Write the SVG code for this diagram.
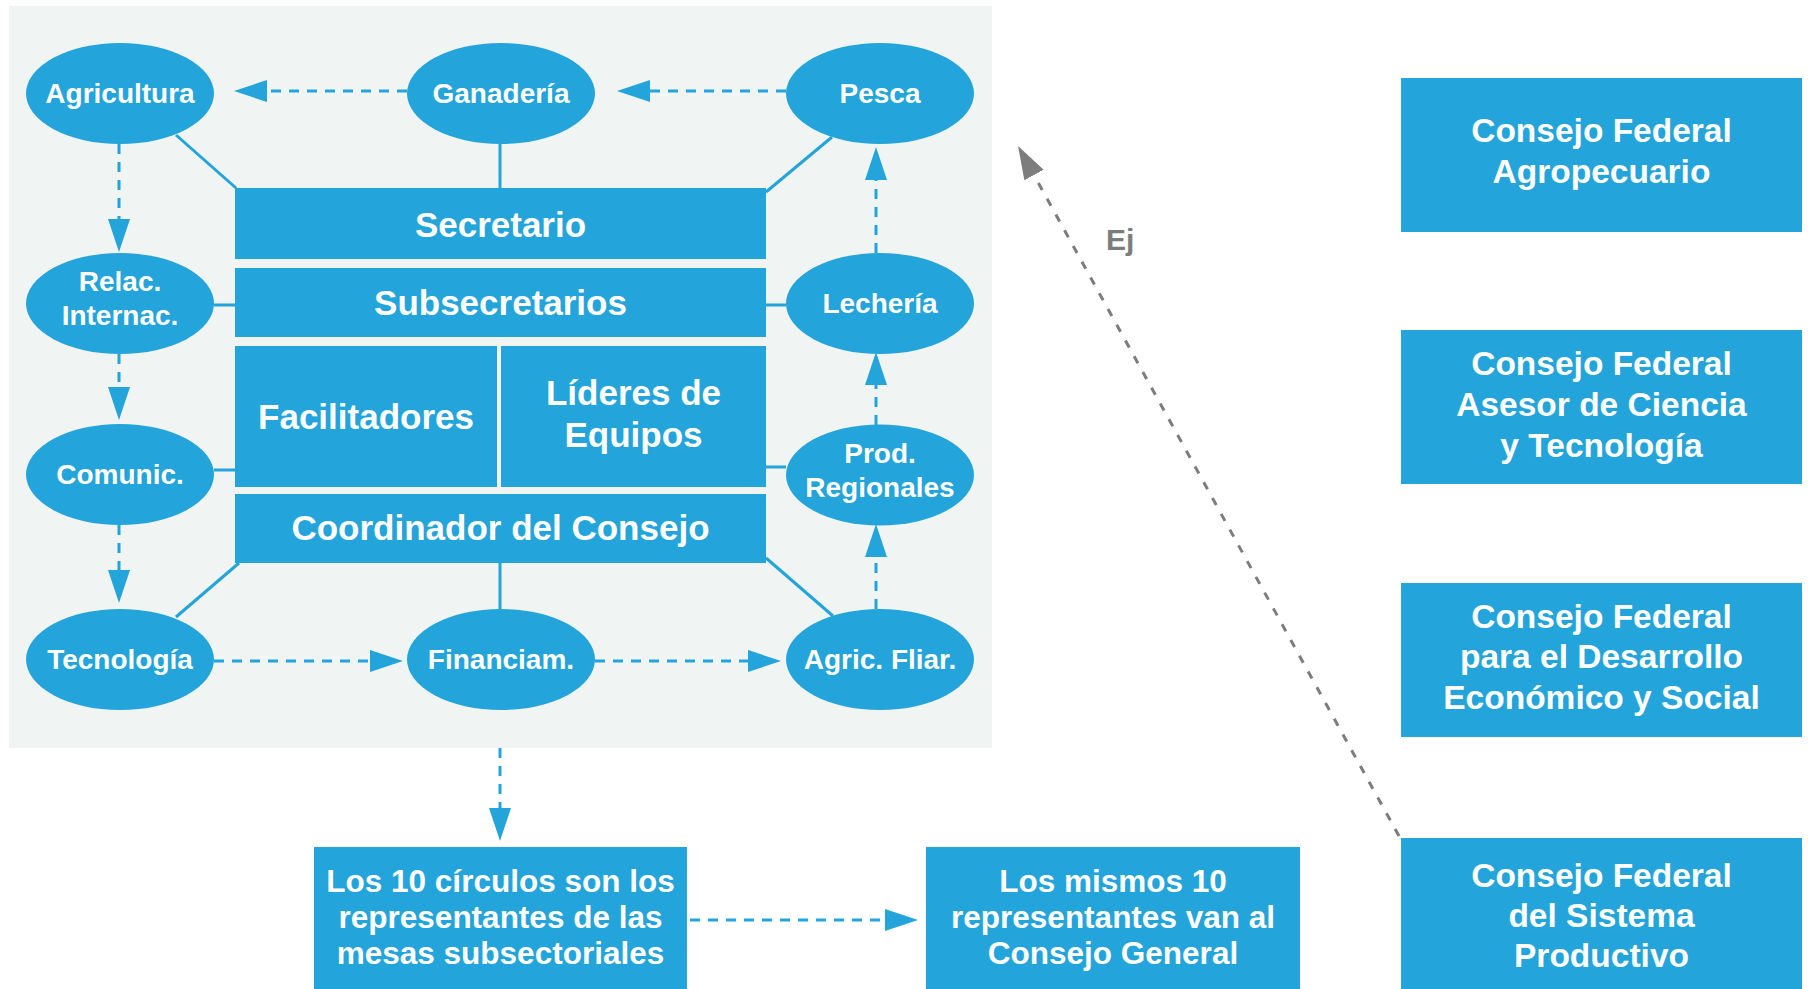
<svg xmlns="http://www.w3.org/2000/svg" width="1808" height="989" viewBox="0 0 1808 989">
<defs>
<style>
.n{fill:#23a4db}
.t{fill:#fff;font-family:"Liberation Sans",Arial,Helvetica,sans-serif;font-weight:bold;text-anchor:middle}
.e{font-size:28px}
.b{font-size:35px}
.s{font-size:31.5px}
.r{font-size:33.5px}
.solid{stroke:#23a4db;stroke-width:3;fill:none}
.dash{stroke:#23a4db;stroke-width:3;fill:none;stroke-dasharray:10 8;marker-end:url(#ah)}
.gray{stroke:#7d7d7d;stroke-width:3;fill:none;stroke-dasharray:8 10;marker-end:url(#ahg)}
</style>
<marker id="ah" markerUnits="userSpaceOnUse" markerWidth="34" markerHeight="22" refX="0" refY="11" orient="auto"><path d="M0,0 L33,11 L0,22 Z" fill="#23a4db"/></marker>
<marker id="ahg" markerUnits="userSpaceOnUse" markerWidth="34" markerHeight="22" refX="0" refY="11" orient="auto"><path d="M0,0 L33,11 L0,22 Z" fill="#7d7d7d"/></marker>
</defs>
<rect x="0" y="0" width="1808" height="989" fill="#ffffff"/>
<rect id="panel" x="9" y="6" width="983" height="742" fill="#f0f4f3"/>

<g id="connectors">
<line class="solid" x1="176" y1="135" x2="236" y2="188"/>
<line class="solid" x1="500" y1="144" x2="500" y2="188"/>
<line class="solid" x1="832" y1="137" x2="766" y2="192"/>
<line class="solid" x1="214" y1="305" x2="235" y2="305"/>
<line class="solid" x1="766" y1="305" x2="786" y2="305"/>
<line class="solid" x1="214" y1="470" x2="235" y2="470"/>
<line class="solid" x1="766" y1="467" x2="786" y2="467"/>
<line class="solid" x1="176" y1="617" x2="239" y2="563"/>
<line class="solid" x1="500" y1="563" x2="500" y2="609"/>
<line class="solid" x1="766" y1="558" x2="833" y2="616"/>

<line class="dash" x1="407" y1="91" x2="267" y2="91"/>
<line class="dash" x1="786" y1="91" x2="650" y2="91"/>
<line class="dash" x1="119" y1="144" x2="119" y2="219"/>
<line class="dash" x1="119" y1="354" x2="119" y2="387"/>
<line class="dash" x1="119" y1="525" x2="119" y2="570"/>
<line class="dash" x1="214" y1="661" x2="370" y2="661"/>
<line class="dash" x1="595" y1="661" x2="748" y2="661"/>
<line class="dash" x1="876" y1="609" x2="876" y2="557"/>
<line class="dash" x1="876" y1="425" x2="876" y2="385"/>
<line class="dash" x1="876" y1="253" x2="876" y2="180"/>
<line class="dash" x1="500" y1="748" x2="500" y2="808"/>
<line class="dash" x1="690" y1="920" x2="885" y2="920"/>

<line class="gray" x1="1399" y1="836" x2="1034" y2="175"/>
<text x="1106" y="250" font-family="Liberation Sans,Arial,sans-serif" font-weight="bold" font-size="30" fill="#7d7d7d">Ej</text>
</g>

<g id="agricultura"><ellipse class="n" cx="120" cy="93.5" rx="94" ry="50.5"/><text class="t e" x="120" y="103">Agricultura</text></g>
<g id="ganaderia"><ellipse class="n" cx="501" cy="93.5" rx="94" ry="50.5"/><text class="t e" x="501" y="103">Ganadería</text></g>
<g id="pesca"><ellipse class="n" cx="880" cy="93.5" rx="94" ry="50.5"/><text class="t e" x="880" y="103">Pesca</text></g>
<g id="relac"><ellipse class="n" cx="120" cy="303.5" rx="94" ry="50.5"/><text class="t e" x="120" y="291">Relac.</text><text class="t e" x="120" y="325">Internac.</text></g>
<g id="lecheria"><ellipse class="n" cx="880" cy="303.5" rx="94" ry="50.5"/><text class="t e" x="880" y="313">Lechería</text></g>
<g id="comunic"><ellipse class="n" cx="120" cy="474.5" rx="94" ry="50.5"/><text class="t e" x="120" y="484">Comunic.</text></g>
<g id="prod"><ellipse class="n" cx="880" cy="475" rx="94" ry="50.5"/><text class="t e" x="880" y="463">Prod.</text><text class="t e" x="880" y="497">Regionales</text></g>
<g id="tecnologia"><ellipse class="n" cx="120" cy="659.5" rx="94" ry="50.5"/><text class="t e" x="120" y="669">Tecnología</text></g>
<g id="financiam"><ellipse class="n" cx="501" cy="659.5" rx="94" ry="50.5"/><text class="t e" x="501" y="669">Financiam.</text></g>
<g id="agricfliar"><ellipse class="n" cx="880" cy="659.5" rx="94" ry="50.5"/><text class="t e" x="880" y="669">Agric. Fliar.</text></g>

<g id="secretario"><rect class="n" x="235" y="188" width="531" height="71"/><text class="t b" x="500.5" y="237">Secretario</text></g>
<g id="subsecretarios"><rect class="n" x="235" y="268" width="531" height="69"/><text class="t b" x="500.5" y="315">Subsecretarios</text></g>
<g id="facilitadores"><rect class="n" x="235" y="346" width="262" height="141"/><text class="t b" x="366" y="429">Facilitadores</text></g>
<g id="lideres"><rect class="n" x="501" y="346" width="265" height="141"/><text class="t b" x="633.5" y="405">Líderes de</text><text class="t b" x="633.5" y="447">Equipos</text></g>
<g id="coordinador"><rect class="n" x="235" y="494" width="531" height="69"/><text class="t b" x="500.5" y="540">Coordinador del Consejo</text></g>

<g id="box-circulos"><rect class="n" x="314" y="847" width="373" height="142"/><text class="t s" x="500.5" y="892">Los 10 círculos son los</text><text class="t s" x="500.5" y="928">representantes de las</text><text class="t s" x="500.5" y="964">mesas subsectoriales</text></g>
<g id="box-mismos"><rect class="n" x="926" y="847" width="374" height="142"/><text class="t s" x="1113" y="892">Los mismos 10</text><text class="t s" x="1113" y="928">representantes van al</text><text class="t s" x="1113" y="964">Consejo General</text></g>

<g id="cf-agro"><rect class="n" x="1401" y="78" width="401" height="154"/><text class="t r" x="1601.5" y="142">Consejo Federal</text><text class="t r" x="1601.5" y="183">Agropecuario</text></g>
<g id="cf-ciencia"><rect class="n" x="1401" y="330" width="401" height="154"/><text class="t r" x="1601.5" y="375">Consejo Federal</text><text class="t r" x="1601.5" y="416">Asesor de Ciencia</text><text class="t r" x="1601.5" y="457">y Tecnología</text></g>
<g id="cf-desarrollo"><rect class="n" x="1401" y="583" width="401" height="154"/><text class="t r" x="1601.5" y="628">Consejo Federal</text><text class="t r" x="1601.5" y="668">para el Desarrollo</text><text class="t r" x="1601.5" y="709">Económico y Social</text></g>
<g id="cf-sistema"><rect class="n" x="1401" y="838" width="401" height="151"/><text class="t r" x="1601.5" y="887">Consejo Federal</text><text class="t r" x="1601.5" y="927">del Sistema</text><text class="t r" x="1601.5" y="967">Productivo</text></g>
</svg>
